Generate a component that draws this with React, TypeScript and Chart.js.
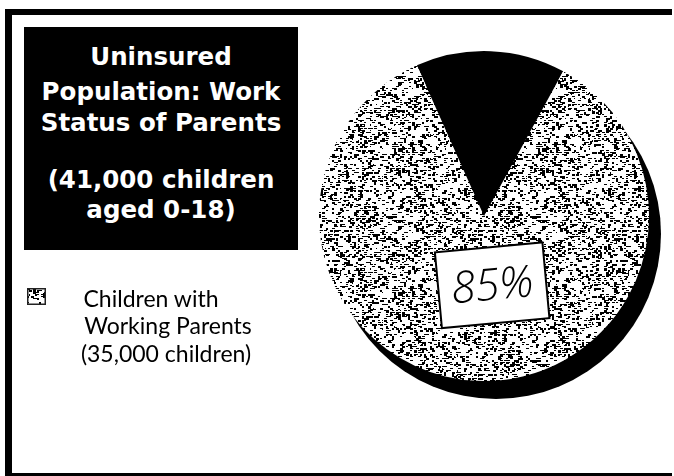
import React, { useEffect, useRef } from "react";
import { Chart, registerables } from "chart.js";

Chart.register(...registerables);

// ---- data ----
const categories = ["Children with Non-working Parents", "Children with Working Parents"];
const childrenCounts = [6000, 35000];
const sliceLabels = ["", "85%"];
const titleLines = ["Uninsured", "Population: Work", "Status of Parents"];
const subtitleLines = ["(41,000 children", "aged 0-18)"];
const legendLines = ["Children with", "Working Parents", "(35,000 children)"];

function hash(x: number, y: number, s: number): number {
  const v = Math.sin(x * 12.9898 + y * 78.233 + s * 37.719) * 43758.5453;
  return v - Math.floor(v);
}

function makeSpeckle(): HTMLCanvasElement {
  const size = 144;
  const c = document.createElement("canvas");
  c.width = size;
  c.height = size;
  const ctx = c.getContext("2d")!;
  ctx.fillStyle = "#ffffff";
  ctx.fillRect(0, 0, size, size);
  ctx.fillStyle = "#000000";
  for (let y = 0; y < size; y += 2) {
    for (let x = 0; x < size; x += 2) {
      const coarse = hash(Math.floor(x / 12), Math.floor(y / 12), 3);
      const density = 0.24 + 0.2 * coarse;
      const h = hash(x, y, 1);
      if (h < density) {
        const w = hash(x, y, 5) < 0.5 ? 3 : 2;
        const hh = hash(x, y, 9) < 0.5 ? 1 : 2;
        ctx.fillRect(x, y, w, hh);
      }
    }
  }
  ctx.fillStyle = "#ffffff";
  for (let y = 0; y < size; y += 3) {
    for (let x = 0; x < size; x += 3) {
      if (hash(x, y, 11) < 0.1) ctx.fillRect(x, y, 2, 2);
    }
  }
  return c;
}

const shadowPlugin = {
  id: "pieShadow",
  beforeDatasetsDraw(chart: any) {
    const arc = chart.getDatasetMeta(0).data[0];
    if (!arc) return;
    const { x, y, outerRadius } = arc.getProps(["x", "y", "outerRadius"], true);
    const ctx = chart.ctx;
    ctx.save();
    ctx.fillStyle = "#000000";
    ctx.beginPath();
    ctx.arc(x + 12, y + 18, outerRadius, 0, Math.PI * 2);
    ctx.fill();
    ctx.restore();
  },
};

const labelPlugin = {
  id: "sliceLabel",
  afterDatasetsDraw(chart: any) {
    const meta = chart.getDatasetMeta(0);
    meta.data.forEach((arc: any, i: number) => {
      const text = sliceLabels[i];
      if (!text) return;
      const { x, y, startAngle, endAngle, outerRadius } = arc.getProps(
        ["x", "y", "startAngle", "endAngle", "outerRadius"],
        true
      );
      const mid = (startAngle + endAngle) / 2;
      const px = x + Math.cos(mid) * outerRadius * 0.42 + 11;
      const py = y + Math.sin(mid) * outerRadius * 0.42;
      const ctx = chart.ctx;
      ctx.save();
      ctx.translate(px, py);
      ctx.rotate((-5.3 * Math.PI) / 180);
      ctx.fillStyle = "#ffffff";
      ctx.strokeStyle = "#000000";
      ctx.lineWidth = 2;
      ctx.fillRect(-54, -38, 108, 76);
      ctx.strokeRect(-54, -38, 108, 76);
      ctx.fillStyle = "#000000";
      ctx.font = "italic 300 44px 'Open Sans', 'DejaVu Sans', sans-serif";
      ctx.textAlign = "center";
      ctx.textBaseline = "middle";
      ctx.fillText(text, 0, 2);
      ctx.restore();
    });
  },
};

export default function App() {
  const canvasRef = useRef<HTMLCanvasElement | null>(null);
  const swatchRef = useRef<HTMLCanvasElement | null>(null);

  useEffect(() => {
    const speckle = makeSpeckle();
    const sw = swatchRef.current;
    if (sw) {
      const sctx = sw.getContext("2d")!;
      const p = sctx.createPattern(speckle, "repeat")!;
      sctx.fillStyle = p;
      sctx.fillRect(0, 0, sw.width, sw.height);
      sctx.strokeStyle = "#222";
      sctx.lineWidth = 1.5;
      sctx.strokeRect(0.75, 0.75, sw.width - 1.5, sw.height - 1.5);
    }
    const canvas = canvasRef.current!;
    const ctx = canvas.getContext("2d")!;
    const pattern = ctx.createPattern(speckle, "repeat")!;
    const chart = new Chart(canvas, {
      type: "pie",
      data: {
        labels: categories,
        datasets: [
          {
            data: childrenCounts,
            backgroundColor: ["#000000", pattern as any],
            borderWidth: 0,
          },
        ],
      },
      options: {
        responsive: false,
        animation: false,
        rotation: -24,
        layout: { padding: { left: 5, top: 5, right: 25, bottom: 25 } },
        plugins: {
          legend: { display: false },
          tooltip: { enabled: false },
          title: { display: false },
        },
      },
      plugins: [shadowPlugin, labelPlugin],
    });
    return () => chart.destroy();
  }, []);

  const titleFont: React.CSSProperties = {
    position: "absolute",
    left: 0,
    width: "100%",
    textAlign: "center",
    fontFamily: "'DejaVu Sans', sans-serif",
    fontWeight: 700,
    fontSize: 24.5,
    lineHeight: "30px",
    color: "#ffffff",
    whiteSpace: "nowrap",
  };
  const titleTops = [14.5, 49.5, 80.5];
  const subTops = [137.5, 167.5];
  const legendTops = [285, 312, 340];
  const legendCenters = [151, 168, 166];

  const bar = (l: number, t: number, w: number, h: number): React.CSSProperties => ({
    position: "absolute",
    left: l,
    top: t,
    width: w,
    height: h,
    background: "#000000",
  });

  return (
    <div
      style={{
        position: "absolute",
        left: 0,
        top: 0,
        width: 674,
        height: 476,
        overflow: "hidden",
        background: "#ffffff",
      }}
    >
      <div style={bar(5, 9, 667, 6)} />
      <div style={bar(5, 9, 7, 467)} />
      <div style={bar(5, 473, 667, 3)} />
      <div
        style={{
          position: "absolute",
          left: 24,
          top: 27,
          width: 274,
          height: 223,
          background: "#000000",
        }}
      >
        {titleLines.map((t, i) => (
          <div key={"t" + i} style={{ ...titleFont, top: titleTops[i] }}>
            {t}
          </div>
        ))}
        {subtitleLines.map((t, i) => (
          <div key={"s" + i} style={{ ...titleFont, top: subTops[i] }}>
            {t}
          </div>
        ))}
      </div>
      <canvas
        ref={swatchRef}
        width={19}
        height={17}
        style={{ position: "absolute", left: 27, top: 288 }}
      />
      {legendLines.map((t, i) => (
        <div
          key={"l" + i}
          style={{
            position: "absolute",
            left: legendCenters[i] - 150,
            width: 300,
            top: legendTops[i],
            textAlign: "center",
            fontFamily: "Lato, 'Open Sans', sans-serif",
            fontSize: 23,
            lineHeight: "26px",
            color: "#000000",
            whiteSpace: "nowrap",
          }}
        >
          {t}
        </div>
      ))}
      <canvas
        ref={canvasRef}
        width={360}
        height={360}
        style={{ position: "absolute", left: 314, top: 46 }}
      />
    </div>
  );
}
